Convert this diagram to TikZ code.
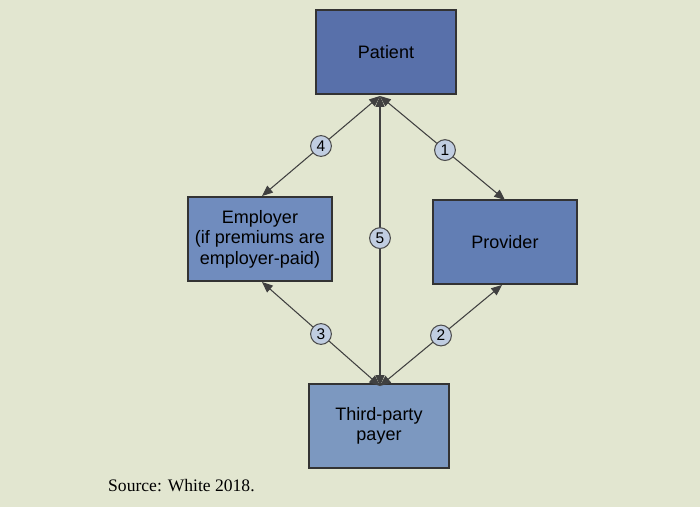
\documentclass[tikz,border=0pt]{standalone}
\usepackage{fontspec}
\setmainfont{Liberation Sans}
\newfontfamily\srcfont{Liberation Serif}
\usetikzlibrary{arrows,calc}
\definecolor{bg}{RGB}{226,230,208}
\definecolor{patblue}{RGB}{88,112,170}
\definecolor{empblue}{RGB}{112,140,190}
\definecolor{provblue}{RGB}{98,126,180}
\definecolor{payblue}{RGB}{124,152,192}
\definecolor{numfill}{RGB}{192,205,225}
\begin{document}
\begin{tikzpicture}[x=0.025cm,y=-0.025cm,>=triangle 45,line width=0.75pt,font=\fontsize{12.8pt}{14.5pt}\selectfont]
\tikzset{
  party/.style={draw=black!80,minimum width=3.55cm,minimum height=2.1cm,align=center,inner sep=1pt},
  stepnum/.style={circle,draw=black!70,fill=numfill,inner sep=0.6pt,font=\fontsize{11pt}{0}\selectfont,minimum size=0.52cm},
  flow/.style={<->,draw=black!75}
}
\fill[bg] (0,0) rectangle (700,507);
\useasboundingbox (0,0) rectangle (700,507);

\node[party,fill=patblue,minimum width=3.5cm] (patient) at (386,52) {Patient};
\node[party,fill=empblue,minimum width=3.6cm] (employer) at (260,239) {Employer\\(if premiums are\\employer-paid)};
\node[party,fill=provblue,minimum width=3.6cm] (provider) at (505,242) {Provider};
\node[party,fill=payblue,minimum width=3.5cm] (payer) at (379,426) {Third-party\\payer};

\coordinate (pt) at (380,96);
\coordinate (py) at (380,386);
\coordinate (emptop) at (262,196);
\coordinate (empbot) at (262,282);
\coordinate (provtop) at (505,200);
\coordinate (provbot) at (502,285);

\draw[flow] (pt) -- (emptop) node[stepnum,pos=0.5] {4};
\draw[flow] (pt) -- (provtop) node[stepnum,pos=0.52] {1};
\draw[flow] (pt) -- (py) node[stepnum,pos=0.49] {5};
\draw[flow] (empbot) -- (py) node[stepnum,pos=0.5] {3};
\draw[flow] (provbot) -- (py) node[stepnum,pos=0.5] {2};

\node[anchor=west,font=\srcfont\fontsize{12.5pt}{0}\selectfont] (source) at (103,486) {Source: White 2018.};
\end{tikzpicture}
\end{document}
